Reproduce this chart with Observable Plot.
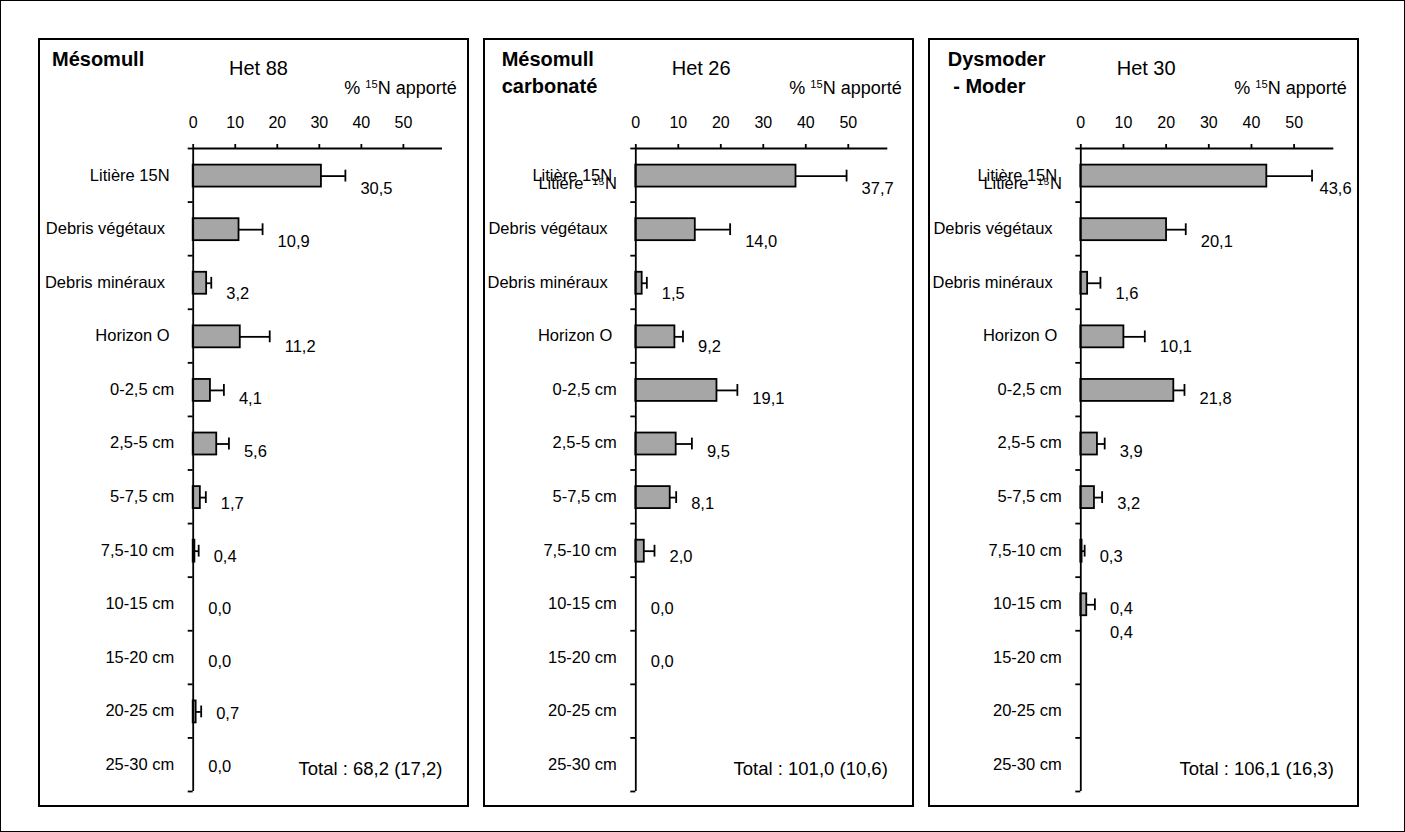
<!DOCTYPE html>
<html>
<head>
<meta charset="utf-8">
<script src="https://cdn.jsdelivr.net/npm/d3@7"></script>
<script src="https://cdn.jsdelivr.net/npm/@observablehq/plot@0.6"></script>
<style>
  html, body { margin: 0; padding: 0; background: #fff; }
  body { font-family: "Liberation Sans", Arial, Helvetica, sans-serif; color: #000; }
  #page { position: relative; width: 1405px; height: 832px; overflow: hidden; }
  #outer { position: absolute; left: 0; top: 0; width: 1405px; height: 832px; box-sizing: border-box; border: 1px solid #000; }
  .panel { position: absolute; top: 38px; width: 431px; height: 769px; box-sizing: border-box; border: 2px solid #000; }
  .ttl { position: absolute; top: 6px; font-weight: bold; font-size: 20px; line-height: 27px; white-space: pre; }
  .het { position: absolute; top: 17.5px; font-size: 20px; line-height: 20px; white-space: pre; }
  .unit { position: absolute; top: 38.5px; right: 10.3px; font-size: 18px; line-height: 18px; white-space: pre; }
  .unit sup { font-size: 0.62em; vertical-align: 0.55em; line-height: 0; }
  .chart { position: absolute; left: 0; top: 60px; }
</style>
</head>
<body>
<div id="page"><div id="outer"></div></div>
<script>
// ---- data ----
const categories = [
  "Litière 15N\u00a0", "Debris végétaux\u00a0\u00a0", "Debris minéraux\u00a0\u00a0", "Horizon O\u00a0",
  "0-2,5 cm", "2,5-5 cm", "5-7,5 cm", "7,5-10 cm",
  "10-15 cm", "15-20 cm", "20-25 cm", "25-30 cm"
];
const xTicks = [0, 10, 20, 30, 40, 50];

// Het 88 (Mésomull)
const het88Values = [30.5, 10.9, 3.2, 11.2, 4.1, 5.6, 1.7, 0.4, 0.0, 0.0, 0.7, 0.0];
const het88Errors = [5.7, 5.6, 1.1, 7.0, 3.2, 2.9, 1.3, 0.9, 0, 0, 1.2, 0];
const het88Labels = ["30,5", "10,9", "3,2", "11,2", "4,1", "5,6", "1,7", "0,4", "0,0", "0,0", "0,7", "0,0"];
const het88Total = "Total : 68,2 (17,2)";

// Het 26 (Mésomull carbonaté)
const het26Values = [37.7, 14.0, 1.5, 9.2, 19.1, 9.5, 8.1, 2.0, 0.0, 0.0, null, null];
const het26Errors = [11.9, 8.2, 1.1, 1.9, 4.8, 3.7, 1.4, 2.4, 0, 0, null, null];
const het26Labels = ["37,7", "14,0", "1,5", "9,2", "19,1", "9,5", "8,1", "2,0", "0,0", "0,0", null, null];
const het26Total = "Total : 101,0 (10,6)";

// Het 30 (Dysmoder - Moder)
const het30Values = [43.6, 20.1, 1.6, 10.1, 21.8, 3.9, 3.2, 0.3, 1.4, null, null, null];
const het30Errors = [10.6, 4.5, 3.0, 4.9, 2.5, 1.7, 1.8, 0.6, 1.9, null, null, null];
const het30Labels = ["43,6", "20,1", "1,6", "10,1", "21,8", "3,9", "3,2", "0,3", "0,4", null, null, null];
const het30Total = "Total : 106,1 (16,3)";
const het30Extra = [{row: 8, text: "0,4"}];

const litiereSecondLine = "Litière \u00a0¹⁵N";

// ---- layout ----
const panels = [
  {left: 38, title: "Mésomull", het: "Het 88", titleX: 12, hetX: 189, ml: 152.7, mr: 25,
   values: het88Values, errors: het88Errors, labels: het88Labels, total: het88Total, extra: [], second: false},
  {left: 483, title: "Mésomull\ncarbonaté", het: "Het 26", titleX: 16.7, hetX: 186.7, ml: 150.3, mr: 24.7,
   values: het26Values, errors: het26Errors, labels: het26Labels, total: het26Total, extra: [], second: true},
  {left: 928, title: "Dysmoder\n - Moder", het: "Het 30", titleX: 17.7, hetX: 186.7, ml: 150.3, mr: 23.7,
   values: het30Values, errors: het30Errors, labels: het30Labels, total: het30Total, extra: het30Extra, second: true}
];
const W = 427;
const xMax = 59.3;
const font = "'Liberation Sans', Arial, Helvetica, sans-serif";
const LW = 1.8;

// label rows drift slightly upward relative to bars in the original
const labelY = d => d.i + 0.5 + 0.252 - 0.0196 * d.i;

function makeChart(p) {
  const k = (W - p.ml - p.mr) / xMax;          // px per unit
  const gapU = 15 / k;                          // 15 px gap after the error cap
  const limitU = (W - 6 - 32 - p.ml) / k;       // keep labels inside the panel
  const labelX = d => Math.min(d.v + (d.e || 0) + gapU, limitU);
  const rows = categories.map((c, i) => ({i, cat: c, v: p.values[i], e: p.errors[i], lab: p.labels[i]}))
    .filter(d => d.v != null);
  const errRows = rows.filter(d => d.e > 0);
  const marks = [
    Plot.rectX(rows, {x1: 0, x2: "v", y1: d => d.i + 0.31, y2: d => d.i + 0.72,
      fill: "#a6a6a6", stroke: "#000", strokeWidth: LW}),
    Plot.ruleY(errRows, {y: d => d.i + 0.515, x1: "v", x2: d => d.v + d.e, stroke: "#000", strokeWidth: LW}),
    Plot.ruleX(errRows, {x: d => d.v + d.e, y1: d => d.i + 0.405, y2: d => d.i + 0.625, stroke: "#000", strokeWidth: LW}),
    Plot.text(rows, {x: labelX, y: labelY, text: "lab", textAnchor: "start", fontSize: 16.5, fill: "#000"}),
    Plot.text(p.extra, {x: d => labelX({v: p.values[d.row], e: p.errors[d.row]}), y: d => labelY({i: d.row}), text: "text",
      dy: 23.4, textAnchor: "start", fontSize: 16.5, fill: "#000"}),
    Plot.ruleX([0], {stroke: "#000", strokeWidth: LW}),
    Plot.ruleY([0], {stroke: "#000", strokeWidth: LW}),
    Plot.axisX({anchor: "top", ticks: xTicks, tickSize: 5, tickPadding: 16, fontSize: 16, strokeWidth: LW, label: null, fill: "#000"}),
    Plot.axisY({ticks: d3.range(categories.length + 1), tickSize: 5, tickFormat: () => "", strokeWidth: LW, label: null}),
    Plot.axisY({ticks: categories.map((c, i) => i + 0.5), tickSize: 0, tickPadding: 19,
      tickFormat: t => categories[Math.floor(t)], fontSize: 16.5, label: null, fill: "#000"}),
    Plot.text([p.total], {x: xMax, y: 11.5, text: d => d, textAnchor: "end", dy: 4.5, fontSize: 18.5, fill: "#000"})
  ];
  if (p.second) {
    marks.push(Plot.text([litiereSecondLine], {x: 0, y: 0.5, text: d => d, textAnchor: "end", dx: -19, dy: 8.5, fontSize: 16.5, fill: "#000"}));
  }
  return Plot.plot({
    width: W, height: 697,
    marginTop: 48, marginBottom: 6, marginLeft: p.ml, marginRight: p.mr,
    x: {domain: [0, xMax], label: null},
    y: {domain: [0, categories.length], reverse: true, label: null},
    style: {fontFamily: font, fontSize: "16px", color: "#000", background: "transparent", overflow: "visible"},
    marks
  });
}

const page = document.getElementById("page");
for (const p of panels) {
  const div = document.createElement("div");
  div.className = "panel";
  div.style.left = p.left + "px";
  const t = document.createElement("div");
  t.className = "ttl"; t.style.left = p.titleX + "px"; t.textContent = p.title;
  const h = document.createElement("div");
  h.className = "het"; h.style.left = p.hetX + "px"; h.textContent = p.het;
  const u = document.createElement("div");
  u.className = "unit"; u.innerHTML = "% <sup>15</sup>N apporté";
  const c = document.createElement("div");
  c.className = "chart";
  c.appendChild(makeChart(p));
  div.append(t, h, u, c);
  page.appendChild(div);
}
</script>
</body>
</html>
